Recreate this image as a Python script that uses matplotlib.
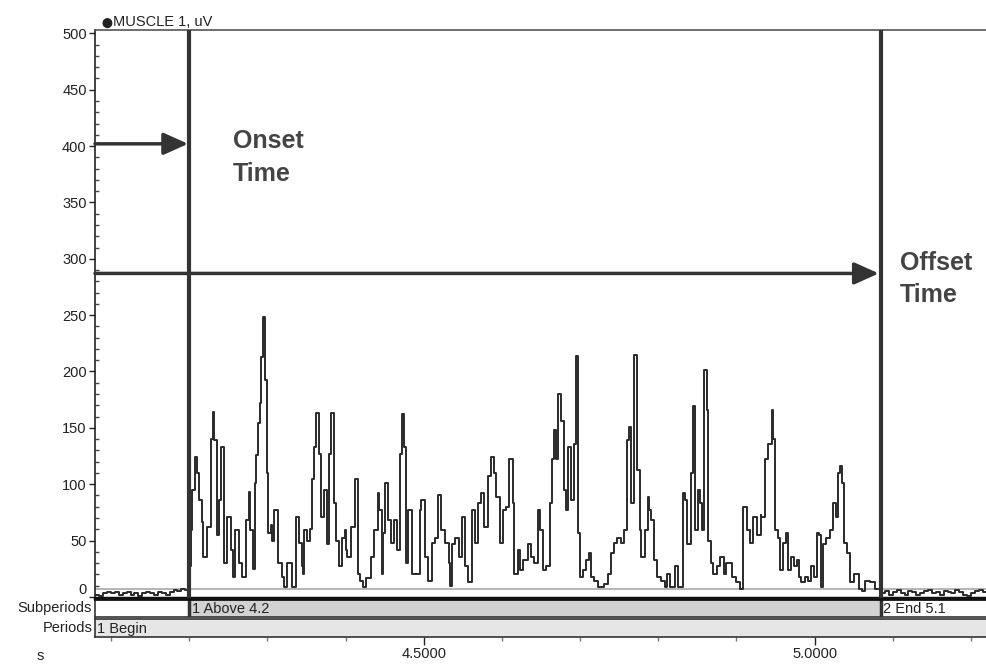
import matplotlib
matplotlib.use('Agg')
import matplotlib.pyplot as plt
from matplotlib.ticker import MultipleLocator, FixedLocator
import numpy as np

plt.rcParams['font.family'] = ['Liberation Sans', 'DejaVu Sans']

# ---------------- data ----------------
channel_label = "MUSCLE 1, uV"
onset_s = 4.2
offset_s = 5.085
x_min, x_max = 4.0795, 5.2205
threshold_uv = 7
onset_arrow_uv = 402
offset_arrow_uv = 287

# baseline before onset (ms relative to onset)
pre_ms = [-125, -120, -115, -110, -105, -100, -95, -90, -85, -80, -75, -70, -65,
          -60, -55, -50, -45, -40, -35, -30, -25, -20, -15, -10, -5]
pre_uv = [1, 2, 1, 3, 4, 3, 4, 2, 3, 4, 2, 3, 1, 3, 4, 3, 2, 4, 3, 2, 4, 6, 5, 7, 6]

# active burst (ms relative to onset)
burst_ms = [0, 2, 3, 7, 10, 13, 16, 18, 23, 28, 30, 32, 36, 38, 41, 45, 48, 53, 56, 59,
            64, 68, 73, 76, 78, 81, 84, 86, 88, 91, 92, 94, 97, 99, 101, 104, 106, 108,
            114, 119, 121, 125, 131, 136, 141, 144,
            145, 147, 151, 154, 157, 160, 162, 166, 169, 172, 176, 179, 181, 185, 188,
            191, 196, 199, 201, 202, 207, 212, 216, 219, 222, 226, 233, 237, 241, 243,
            246, 248, 251, 254, 258, 262, 266, 270, 272, 275, 277, 280, 285,
            290, 295, 297, 302, 305, 310, 315, 318, 322, 327, 332, 333, 336, 340, 345,
            349, 353, 356, 362, 366, 370, 373, 377, 382, 386, 390, 392, 397, 401, 405,
            409, 414, 416, 420, 423, 427, 433,
            437, 441, 446, 449, 452, 456, 461, 464, 466, 469, 472, 476, 479, 482, 484,
            488, 492, 495, 497, 500, 504, 508, 511, 514, 518, 523, 530, 536, 540, 544,
            547, 552, 556, 560, 563, 565, 569, 573, 576, 578, 583, 587,
            588, 591, 595, 598, 604, 608, 611, 615, 622, 625, 631, 634, 637, 642, 645,
            647, 651, 654, 656, 659, 662, 664, 667, 670, 675, 679, 684, 687, 694, 699,
            704, 709, 714, 717, 721, 726, 731,
            732, 736, 740, 745, 747, 749, 753, 756, 759, 763, 766, 770, 773, 777, 780,
            783, 788, 791, 795, 799, 803, 806, 808, 811, 815, 820, 824, 827, 830, 833,
            835, 838, 842, 845, 851, 857, 861, 865, 871, 877]
burst_uv = [27, 59, 95, 124, 110, 86, 66, 35, 62, 140, 164, 139, 55, 86, 133, 30, 71, 42, 18, 59,
            30, 18, 68, 93, 59, 25, 101, 126, 154, 172, 213, 248, 192, 110, 57, 64, 50, 77,
            30, 18, 9, 30, 9, 71, 48, 27,
            20, 59, 50, 60, 105, 133, 163, 127, 71, 95, 47, 127, 163, 83, 50,
            27, 52, 59, 42, 35, 62, 105, 20, 14, 9, 17, 35, 59, 92, 77,
            20, 57, 101, 68, 48, 68, 42, 127, 162, 133, 30, 77, 20,
            20, 77, 86, 35, 14, 48, 52, 90, 59, 48, 30, 10, 47, 52, 35,
            71, 27, 13, 77, 48, 83, 92, 62, 107, 124, 110, 89, 48, 77, 80,
            122, 83, 20, 42, 24, 33, 47,
            35, 30, 77, 59, 24, 27, 83, 122, 148, 122, 180, 156, 95, 77, 133,
            86, 136, 214, 57, 18, 24, 33, 39, 18, 14, 9, 11, 20, 39, 48,
            52, 48, 59, 139, 151, 83, 215, 113, 59, 35, 59, 89,
            77, 68, 33, 18, 14, 9, 20, 9, 27, 9, 92, 86, 47, 110, 169,
            59, 95, 83, 59, 201, 166, 50, 30, 20, 27, 35, 20, 30, 18, 13,
            7, 80, 59, 48, 71, 55, 73,
            71, 122, 136, 166, 140, 59, 52, 24, 48, 57, 24, 35, 27, 33, 18,
            13, 18, 14, 27, 18, 57, 55, 9, 47, 52, 59, 83, 71, 110, 116,
            101, 48, 39, 13, 20, 7, 5, 14, 13, 7]

# baseline after offset (ms relative to onset)
post_ms = [885, 890, 895, 900, 905, 910, 915, 920, 925, 930, 935, 940, 945, 950,
           955, 960, 965, 970, 975, 980, 985, 990, 995, 1000, 1005, 1010, 1015, 1020, 1025]
post_uv = [3, 5, 2, 4, 6, 3, 2, 5, 4, 2, 3, 5, 6, 3, 4, 2, 5, 4, 3, 6, 4, 2, 1, 3, 5, 6, 4, 3, 3]

y_major = [0, 50, 100, 150, 200, 250, 300, 350, 400, 450, 500]
x_major = [4.5, 5.0]
x_major_labels = ["4.5000", "5.0000"]
x_minor = [4.1, 4.2, 4.3, 4.4, 4.6, 4.7, 4.8, 4.9, 5.1, 5.2]

subperiod_labels = ["1 Above 4.2", "2 End 5.1"]
period_labels = ["1 Begin"]

# ---------------- figure ----------------
W, H = 987, 664
fig = plt.figure(figsize=(W / 100, H / 100), dpi=100)
fig.patch.set_facecolor('white')

L = 95 / W
Wd = 892 / W
ax = fig.add_axes([L, 1 - 598 / H, Wd, 568 / H])
sub_ax = fig.add_axes([L, 1 - 617 / H, Wd, 18 / H], sharex=ax)
per_ax = fig.add_axes([L, 1 - 637 / H, Wd, 18 / H], sharex=ax)

t_all = np.array(pre_ms + burst_ms + post_ms) / 1000.0 + onset_s
v_all = np.array(pre_uv + burst_uv + post_uv)

ax.axhline(threshold_uv, color='#b0b0b0', lw=1.3, zorder=1)
ax.step(t_all, v_all, where='post', color='#2a2a2a', lw=1.4, zorder=3)

ax.axvline(onset_s, color='#333333', lw=3, zorder=4)
ax.axvline(offset_s, color='#333333', lw=3, zorder=4)

ax.set_xlim(x_min, x_max)
ax.set_ylim(-1, 503)

ax.yaxis.set_major_locator(FixedLocator(y_major))
ax.yaxis.set_minor_locator(MultipleLocator(10))
ax.tick_params(axis='y', which='major', direction='out', length=4, width=1,
               labelsize=10.5, pad=2, colors='#222222')
ax.tick_params(axis='y', which='minor', direction='in', length=3, width=1, color='#444444')
ax.tick_params(axis='x', which='both', bottom=False, labelbottom=False)
fig.canvas.draw()
for lab in ax.get_yticklabels():
    if lab.get_text() == '0':
        lab.set_va('bottom')
ax.spines['left'].set_color('#222222')
ax.spines['left'].set_linewidth(1.2)
ax.spines['top'].set_color('#555555')
ax.spines['top'].set_linewidth(1.2)
ax.spines['right'].set_visible(False)
ax.spines['bottom'].set_color('#111111')
ax.spines['bottom'].set_linewidth(2.5)

# channel label
ax.text(0.007, 1.003, "\u2B24", transform=ax.transAxes,
        fontsize=7, color='#222222', ha='left', va='bottom',
        family=['DejaVu Sans'])
ax.text(0.02, 1.001, channel_label, transform=ax.transAxes,
        fontsize=10.5, color='#222222', ha='left', va='bottom')

# arrows
arrow_style = '-|>,head_length=1.0,head_width=0.45'
ax.annotate('', xy=(onset_s - 0.0015, onset_arrow_uv), xytext=(x_min, onset_arrow_uv),
            arrowprops=dict(arrowstyle=arrow_style, lw=2.5, color='#333333',
                            mutation_scale=15, shrinkA=0, shrinkB=0), zorder=5)
ax.annotate('', xy=(offset_s - 0.003, offset_arrow_uv), xytext=(x_min, offset_arrow_uv),
            arrowprops=dict(arrowstyle=arrow_style, lw=2.5, color='#333333',
                            mutation_scale=15, shrinkA=0, shrinkB=0), zorder=5)

ax.text(onset_s + 0.056, 415, "Onset\nTime", fontsize=18, fontweight='bold',
        color='#444444', ha='left', va='top', linespacing=1.45)
ax.text(offset_s + 0.024, 307, "Offset\nTime", fontsize=18, fontweight='bold',
        color='#444444', ha='left', va='top', linespacing=1.45)

# subperiods strip
sub_ax.axvspan(onset_s, offset_s, color='#d2d2d2', zorder=0)
sub_ax.axvline(onset_s, color='#333333', lw=2.5)
sub_ax.axvline(offset_s, color='#333333', lw=2.5)
sub_ax.text(onset_s + 0.003, 0.45, subperiod_labels[0], fontsize=10.5, va='center', ha='left',
            color='#222222')
sub_ax.text(offset_s + 0.003, 0.45, subperiod_labels[1], fontsize=10.5, va='center', ha='left',
            color='#222222')
sub_ax.set_ylim(0, 1)
sub_ax.set_yticks([])
sub_ax.tick_params(axis='x', which='both', bottom=False, labelbottom=False)
for s in sub_ax.spines.values():
    s.set_color('#333333')
    s.set_linewidth(1.2)
sub_ax.spines['right'].set_visible(False)
sub_ax.spines['top'].set_linewidth(2.0)
sub_ax.spines['top'].set_color('#111111')

# periods strip
per_ax.set_facecolor('#e6e6e6')
per_ax.text(x_min + 0.002, 0.45, period_labels[0], fontsize=10.5, va='center', ha='left',
            color='#222222')
per_ax.set_ylim(0, 1)
per_ax.set_yticks([])
for s in per_ax.spines.values():
    s.set_color('#333333')
    s.set_linewidth(1.2)
per_ax.spines['right'].set_visible(False)
per_ax.xaxis.set_major_locator(FixedLocator(x_major))
per_ax.set_xticklabels(x_major_labels)
per_ax.xaxis.set_minor_locator(FixedLocator(x_minor))
per_ax.tick_params(axis='x', which='major', direction='out', length=6, width=1,
                   labelsize=10.5, pad=1.5, colors='#222222')
per_ax.tick_params(axis='x', which='minor', direction='out', length=3, width=1, color='#777777')
per_ax.set_xlim(x_min, x_max)

fig.text(92 / W, 1 - 608 / H, "Subperiods", fontsize=10.5, ha='right', va='center', color='#222222')
fig.text(93 / W, 1 - 628 / H, "Periods", fontsize=10.5, ha='right', va='center', color='#222222')
fig.text(40 / W, 1 - 656 / H, "s", fontsize=10.5, ha='center', va='center', color='#222222')

fig.savefig('out.png', dpi=100, facecolor='white')
